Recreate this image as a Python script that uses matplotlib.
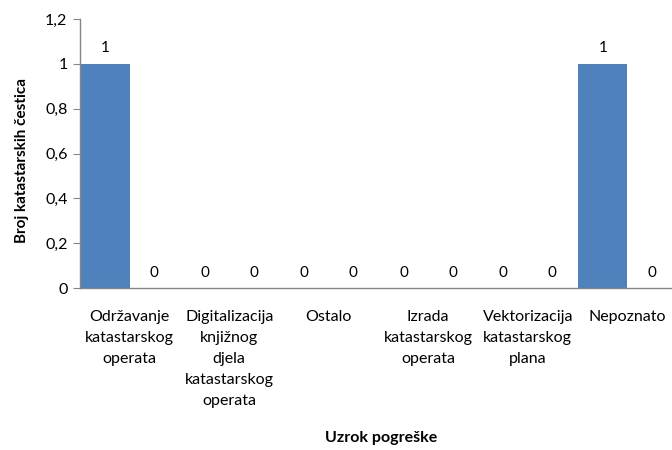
import matplotlib
matplotlib.use("Agg")
import matplotlib.pyplot as plt
import numpy as np

categories = [
    "Održavanje\nkatastarskog\noperata",
    "Digitalizacija\nknjižnog\ndjela\nkatastarskog\noperata",
    "Ostalo",
    "Izrada\nkatastarskog\noperata",
    "Vektorizacija\nkatastarskog\nplana",
    "Nepoznato",
]
series_a = [1, 0, 0, 0, 0, 1]
series_b = [0, 0, 0, 0, 0, 0]
y_ticks = [0, 0.2, 0.4, 0.6, 0.8, 1.0, 1.2]
y_tick_labels = ["0", "0,2", "0,4", "0,6", "0,8", "1", "1,2"]

plt.rcParams["font.family"] = ["Lato", "DejaVu Sans"]

W, H = 672, 450
fig = plt.figure(figsize=(W / 100, H / 100), dpi=100)
left, right, top, bottom = 80, 677, 19, 288
ax = fig.add_axes([left / W, 1 - bottom / H, (right - left) / W, (bottom - top) / H])

x = np.arange(len(categories))
bw = 0.49
bars_a = ax.bar(x - bw / 2, series_a, width=bw, color="#4F81BD")
bars_b = ax.bar(x + bw / 2, series_b, width=bw, color="#C0504D")

for rect, v in list(zip(bars_a, series_a)) + list(zip(bars_b, series_b)):
    ax.annotate(f"{v}", (rect.get_x() + rect.get_width() / 2, v),
                xytext=(0, 6), textcoords="offset points",
                ha="center", va="bottom", fontsize=11, color="#000000")

ax.set_xlim(-0.5, len(categories) - 0.5)
ax.set_ylim(0, 1.2)
ax.set_yticks(y_ticks)
ax.set_yticklabels(y_tick_labels, fontsize=11.5)
ax.set_xticks(x)
ax.set_xticklabels(categories, fontsize=11.5, linespacing=1.62, va="top")

for s in ["top", "right"]:
    ax.spines[s].set_visible(False)
for s in ["left", "bottom"]:
    ax.spines[s].set_color("#868686")
    ax.spines[s].set_linewidth(1.0)
ax.tick_params(axis="y", length=5, color="#868686", pad=4)
ax.tick_params(axis="x", length=0, pad=16)

fig.text(22 / W, 1 - 160 / H, "Broj katastarskih čestica", rotation=90,
         ha="center", va="center", fontsize=11, fontweight="bold")
fig.text(381 / W, 1 - 438 / H, "Uzrok pogreške",
         ha="center", va="center", fontsize=11.5, fontweight="bold")

fig.savefig("out.png", dpi=100)
